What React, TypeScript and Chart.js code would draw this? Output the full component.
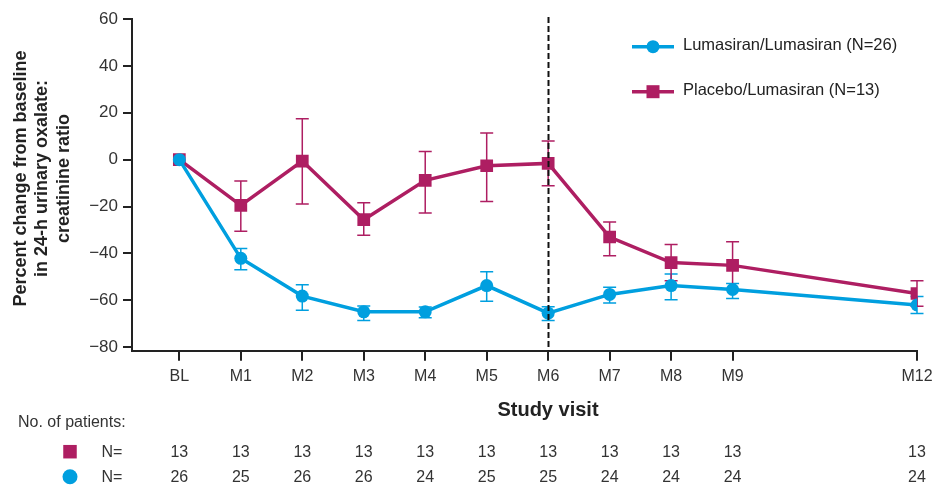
import { useEffect, useRef } from 'react';
import { Chart, registerables } from 'chart.js';

Chart.register(...registerables);

// ---------- data ----------
const VISITS = ['BL', 'M1', 'M2', 'M3', 'M4', 'M5', 'M6', 'M7', 'M8', 'M9', 'M12'];
const MONTHS = [0, 1, 2, 3, 4, 5, 6, 7, 8, 9, 12];

const LUMA_MEAN = [0, -42.1, -58.2, -64.9, -64.9, -53.7, -65.5, -57.5, -53.7, -55.4, -62.0];
const LUMA_LOW = [0, -47.0, -64.2, -68.6, -67.4, -60.4, -68.6, -61.2, -59.8, -59.2, -65.6];
const LUMA_HIGH = [0, -37.9, -53.4, -62.4, -62.9, -47.8, -62.7, -54.4, -48.8, -52.8, -58.4];

const PLAC_MEAN = [0, -19.5, -0.6, -25.6, -8.8, -2.6, -1.6, -33.0, -43.9, -45.1, -57.1];
const PLAC_LOW = [0, -30.5, -18.9, -32.3, -22.8, -17.9, -11.1, -41.0, -51.7, -55.2, -62.5];
const PLAC_HIGH = [0, -9.1, 17.5, -18.4, 3.5, 11.4, 8.0, -26.6, -36.2, -35.0, -51.7];

const N_PLACEBO = [13, 13, 13, 13, 13, 13, 13, 13, 13, 13, 13];
const N_LUMA = [26, 25, 26, 26, 24, 25, 25, 24, 24, 24, 24];

const Y_TICKS = [-80, -60, -40, -20, 0, 20, 40, 60];
const SERIES_LABELS = ['Lumasiran/Lumasiran (N=26)', 'Placebo/Lumasiran (N=13)'];
const Y_TITLE = ['Percent change from baseline', 'in 24-h urinary oxalate:', 'creatinine ratio'];
const X_TITLE = 'Study visit';
const TABLE_TITLE = 'No. of patients:';
const DASH_MONTH = 6;

const BLUE = '#009fdf';
const MAGENTA = '#ae1e62';
const AXIS = '#222222';
const TEXT = '#333333';
const FONT = "'Liberation Sans', Arial, sans-serif";

const ERR_LOW = [LUMA_LOW, PLAC_LOW];
const ERR_HIGH = [LUMA_HIGH, PLAC_HIGH];

function drawMarker(ctx: CanvasRenderingContext2D, style: string, x: number, y: number, color: string, size: number) {
  ctx.fillStyle = color;
  if (style === 'rect') {
    ctx.fillRect(x - size / 2, y - size / 2, size, size);
  } else {
    ctx.beginPath();
    ctx.arc(x, y, size / 2, 0, Math.PI * 2);
    ctx.fill();
  }
}

const customPlugin = {
  id: 'customDecor',
  beforeDatasetsDraw(chart: any) {
    const { ctx, scales } = chart;
    const xs = scales.x;
    const ys = scales.y;
    chart.data.datasets.forEach((ds: any, i: number) => {
      const lo = ERR_LOW[i];
      const hi = ERR_HIGH[i];
      ctx.save();
      ctx.strokeStyle = ds.borderColor;
      ctx.lineWidth = 1.5;
      ds.data.forEach((p: any, j: number) => {
        if (lo[j] === hi[j]) return;
        const px = xs.getPixelForValue(p.x);
        const y1 = ys.getPixelForValue(hi[j]);
        const y2 = ys.getPixelForValue(lo[j]);
        ctx.beginPath();
        ctx.moveTo(px, y1);
        ctx.lineTo(px, y2);
        ctx.moveTo(px - 6.5, y1);
        ctx.lineTo(px + 6.5, y1);
        ctx.moveTo(px - 6.5, y2);
        ctx.lineTo(px + 6.5, y2);
        ctx.stroke();
      });
      ctx.restore();
    });
  },
  afterDatasetsDraw(chart: any) {
    const { ctx, chartArea, scales } = chart;
    const xs = scales.x;
    // dashed vertical line
    const dx = Math.round(xs.getPixelForValue(DASH_MONTH)) + 0.5;
    ctx.save();
    ctx.strokeStyle = '#111';
    ctx.lineWidth = 2;
    ctx.setLineDash([6, 3]);
    ctx.beginPath();
    ctx.moveTo(dx, chartArea.top - 2);
    ctx.lineTo(dx, chartArea.bottom);
    ctx.stroke();
    ctx.restore();

    // legend
    ctx.save();
    const legY = [46.7, 91.7];
    chart.data.datasets.forEach((ds: any, i: number) => {
      const y = legY[i];
      ctx.strokeStyle = ds.borderColor;
      ctx.lineWidth = 3.5;
      ctx.beginPath();
      ctx.moveTo(632, y);
      ctx.lineTo(674, y);
      ctx.stroke();
      drawMarker(ctx, ds.pointStyle, 653, y, ds.borderColor, 13);
      ctx.fillStyle = '#222';
      ctx.font = `16.5px ${FONT}`;
      ctx.textAlign = 'left';
      ctx.textBaseline = 'alphabetic';
      ctx.fillText(ds.label, 683, y + 3.5);
    });
    ctx.restore();
  },
  afterDraw(chart: any) {
    const { ctx, scales } = chart;
    const xs = scales.x;
    ctx.save();
    // y title
    ctx.fillStyle = '#222';
    ctx.font = `bold 18px ${FONT}`;
    ctx.textAlign = 'center';
    ctx.textBaseline = 'alphabetic';
    const baseX = [26, 47.3, 68.6];
    Y_TITLE.forEach((line, i) => {
      ctx.save();
      ctx.translate(baseX[i], 178.5);
      ctx.rotate(-Math.PI / 2);
      ctx.fillText(line, 0, 0);
      ctx.restore();
    });
    // x title
    ctx.font = `bold 20px ${FONT}`;
    ctx.fillStyle = '#222';
    ctx.fillText(X_TITLE, 548, 415.5);
    // table
    ctx.font = `16px ${FONT}`;
    ctx.fillStyle = TEXT;
    ctx.textAlign = 'left';
    ctx.fillText(TABLE_TITLE, 18, 426.5);
    const rows = [
      { n: N_PLACEBO, style: 'rect', color: MAGENTA, y: 451.7 },
      { n: N_LUMA, style: 'circle', color: BLUE, y: 476.7 },
    ];
    rows.forEach((r) => {
      drawMarker(ctx, r.style, 70, r.y, r.color, r.style === 'rect' ? 13.5 : 15);
      ctx.fillStyle = TEXT;
      ctx.textAlign = 'left';
      ctx.fillText('N=', 101.5, r.y + 5.7);
      ctx.textAlign = 'center';
      r.n.forEach((v, j) => {
        ctx.fillText(String(v), xs.getPixelForValue(MONTHS[j]), r.y + 5.7);
      });
    });
    ctx.restore();
  },
};

export default function App() {
  const ref = useRef<HTMLCanvasElement | null>(null);
  useEffect(() => {
    if (!ref.current) return;
    const chart = new Chart(ref.current, {
      type: 'line',
      data: {
        datasets: [
          {
            label: SERIES_LABELS[0],
            data: MONTHS.map((m, i) => ({ x: m, y: LUMA_MEAN[i] })),
            borderColor: BLUE,
            backgroundColor: BLUE,
            borderWidth: 3.5,
            pointStyle: 'circle',
            pointRadius: 6.5,
            pointBorderWidth: 0,
            tension: 0,
          },
          {
            label: SERIES_LABELS[1],
            data: MONTHS.map((m, i) => ({ x: m, y: PLAC_MEAN[i] })),
            borderColor: MAGENTA,
            backgroundColor: MAGENTA,
            borderWidth: 3.5,
            pointStyle: 'rect',
            pointRadius: 9,
            pointBorderWidth: 0,
            tension: 0,
          },
        ],
      },
      options: {
        animation: false,
        responsive: false,
        devicePixelRatio: 1,
        layout: { padding: { top: 19, right: 16, left: 0, bottom: 0 } },
        plugins: { legend: { display: false }, tooltip: { enabled: false } },
        scales: {
          x: {
            type: 'linear',
            min: -0.77,
            max: 12,
            afterBuildTicks: (s: any) => {
              s.ticks = MONTHS.map((v) => ({ value: v }));
            },
            afterFit: (s: any) => {
              s.height = 486 - 350.7;
              s.paddingLeft = 0;
              s.paddingRight = 0;
            },
            ticks: {
              autoSkip: false,
              maxRotation: 0,
              padding: 6,
              color: TEXT,
              font: { family: FONT, size: 16 },
              callback: (v: any) => {
                const i = MONTHS.indexOf(Number(v));
                return i >= 0 ? VISITS[i] : '';
              },
            },
            grid: { display: true, drawOnChartArea: false, drawTicks: true, tickLength: 10, color: AXIS, lineWidth: 2 },
            border: { display: true, color: AXIS, width: 2 },
          },
          y: {
            type: 'linear',
            min: -81.5,
            max: 60,
            afterBuildTicks: (s: any) => {
              s.ticks = Y_TICKS.map((v) => ({ value: v }));
            },
            afterFit: (s: any) => {
              s.width = 132;
            },
            ticks: {
              padding: 5,
              color: TEXT,
              font: { family: FONT, size: 17 },
              callback: (v: any) => (Number(v) < 0 ? '\u2212' + Math.abs(Number(v)) : String(v)),
            },
            grid: { display: true, drawOnChartArea: false, drawTicks: true, tickLength: 9, color: AXIS, lineWidth: 2 },
            border: { display: true, color: AXIS, width: 2 },
          },
        },
      },
      plugins: [customPlugin],
    } as any);
    return () => chart.destroy();
  }, []);
  return (
    <div style={{ position: 'absolute', left: 0, top: 0, width: 933, height: 486, background: '#fff' }}>
      <canvas ref={ref} width={933} height={486} style={{ display: 'block' }} />
    </div>
  );
}
